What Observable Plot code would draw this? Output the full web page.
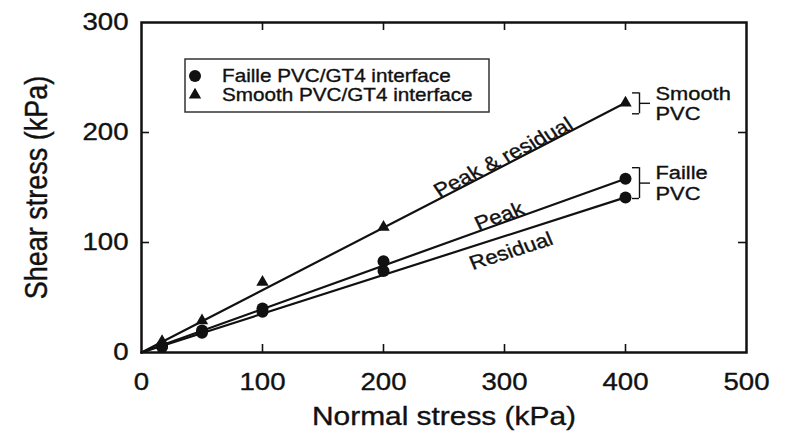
<!DOCTYPE html>
<html>
<head>
<meta charset="utf-8">
<script src="https://cdn.jsdelivr.net/npm/d3@7"></script>
<script src="https://cdn.jsdelivr.net/npm/@observablehq/plot@0.6"></script>
<style>
  html, body { margin: 0; padding: 0; background: #fff; }
  #chart { width: 787px; height: 440px; }
  #chart svg text { stroke: currentColor; stroke-width: 0.35px; }
</style>
</head>
<body>
<div id="chart"></div>
<script>
// ---- data ----
const normalStress   = [17, 50, 100, 200, 400];
const smoothShear    = [10, 29, 64, 114, 227];   // Smooth PVC/GT4 (peak & residual)
const failleShear    = [6, 20, 40, 83, 158];     // Faille PVC/GT4 peak
const failleResShear = [5, 18, 37, 74, 141];     // Faille PVC/GT4 residual

const fitNormal   = [0, 400];
const smoothFit   = [0, 227];
const peakFit     = [0, 158];
const residualFit = [0, 141];

const lineLabels      = ["Peak & residual", "Peak", "Residual"];
const lineLabelNormal = [302, 298, 303];

const bracketLabels = ["Smooth\nPVC", "Faille\nPVC"];
const bracketHi     = [236, 168];
const bracketLo     = [217, 140];

const xTicks = [0, 100, 200, 300, 400, 500];
const yTicks = [0, 100, 200, 300];
const xInner = [100, 200, 300, 400];
const yInner = [100, 200];

const legendLabels = ["Faille PVC/GT4 interface", "Smooth PVC/GT4 interface"];

// ---- layout ----
const W = 787, H = 440;
const mL = 141, mR = 41, mT = 22, mB = 88;
const pw = W - mL - mR, ph = H - mT - mB;
const S = 1.15; // horizontal text stretch of the original print

const pts = (ys) => normalStress.map((x, i) => ({x, y: ys[i]}));
const fit = (ys) => fitNormal.map((x, i) => ({x, y: ys[i]}));
const fits = [smoothFit, peakFit, residualFit];
const kx = pw / 500, ky = ph / 300;
const labels = lineLabels.map((t, i) => {
  const slope = fits[i][1] / fitNormal[1];
  const x = lineLabelNormal[i];
  return {t, x, y: slope * x,
    rot: -Math.atan(S * slope * ky / kx) * 180 / Math.PI};
});
const brackets = bracketLabels.map((t, i) => ({t, hi: bracketHi[i], lo: bracketLo[i], mid: (bracketHi[i] + bracketLo[i]) / 2}));

const ink = "#111";
const plot = Plot.plot({
  width: W, height: H,
  marginLeft: mL, marginRight: mR, marginTop: mT, marginBottom: mB,
  style: {fontFamily: "'Liberation Sans', Arial, Helvetica, sans-serif", color: ink, background: "#fff", overflow: "visible"},
  x: {domain: [0, 500]},
  y: {domain: [0, 300]},
  marks: [
    // inward ticks on all four sides
    Plot.tickX(xInner, {x: d => d, insetTop: ph - 8, stroke: ink, strokeWidth: 1.6}),
    Plot.tickX(xInner, {x: d => d, insetBottom: ph - 8, stroke: ink, strokeWidth: 1.6}),
    Plot.tickY(yInner, {y: d => d, insetRight: pw - 8, stroke: ink, strokeWidth: 1.6}),
    Plot.tickY(yInner, {y: d => d, insetLeft: pw - 8, stroke: ink, strokeWidth: 1.6}),
    Plot.axisX(xTicks, {tickSize: 0, tickPadding: 20, fontSize: 24, label: null}),
    Plot.axisY(yTicks, {tickSize: 0, tickPadding: 13, fontSize: 24, label: null}),
    Plot.text(["Normal stress (kPa)"], {frameAnchor: "bottom", dy: 72, fontSize: 26, textAnchor: "middle"}),
    Plot.text(["Shear stress (kPa)"], {frameAnchor: "left", rotate: -90, dx: -104, fontSize: 27, textAnchor: "middle"}),
    // fitted lines
    Plot.line(fit(smoothFit), {x: "x", y: "y", stroke: ink, strokeWidth: 2.2}),
    Plot.line(fit(peakFit), {x: "x", y: "y", stroke: ink, strokeWidth: 2.2}),
    Plot.line(fit(residualFit), {x: "x", y: "y", stroke: ink, strokeWidth: 2.2}),
    // data points
    Plot.dot(pts(failleShear), {x: "x", y: "y", r: 6, fill: ink, symbol: "circle"}),
    Plot.dot(pts(failleResShear), {x: "x", y: "y", r: 6, fill: ink, symbol: "circle"}),
    Plot.dot(pts(smoothShear), {x: "x", y: "y", r: 4.6, fill: ink, symbol: "triangle"}),
    // line annotations
    Plot.text(labels.slice(0, 2), {x: "x", y: "y", text: "t", rotate: "rot", lineAnchor: "bottom", fontSize: 19.5, dy: -1}),
    Plot.text(labels.slice(2), {x: "x", y: "y", text: "t", rotate: "rot", lineAnchor: "top", fontSize: 19.5, dy: 9}),
    // brackets
    Plot.ruleX(brackets, {x: () => 400, y1: "lo", y2: "hi", dx: 14, stroke: ink, strokeWidth: 1.4}),
    Plot.ruleY(brackets, {y: "hi", x1: () => 400, x2: () => 400, insetLeft: 7, insetRight: -14, stroke: ink, strokeWidth: 1.4}),
    Plot.ruleY(brackets, {y: "lo", x1: () => 400, x2: () => 400, insetLeft: 7, insetRight: -14, stroke: ink, strokeWidth: 1.4}),
    Plot.ruleY(brackets, {y: "mid", x1: () => 400, x2: () => 400, insetLeft: 14, insetRight: -25, stroke: ink, strokeWidth: 1.4}),
    Plot.text(brackets, {x: () => 400, y: "mid", text: "t", dx: 30, textAnchor: "start", fontSize: 19, lineHeight: 1.1}),
    Plot.frame({stroke: ink, strokeWidth: 2.5})
  ]
});

// legend box inside the frame
const svg = d3.select(plot);
const lg = svg.append("g").attr("font-family", "'Liberation Sans', Arial, sans-serif").attr("font-size", 18)
  .attr("fill", ink).attr("text-anchor", "start");
lg.append("rect").attr("x", 185).attr("y", 59).attr("width", 304).attr("height", 53)
  .attr("fill", "#fff").attr("stroke", "#333").attr("stroke-width", 1.5);
lg.append("path").attr("d", d3.symbol(d3.symbolCircle, Math.PI * 36)()).attr("transform", "translate(195,76)");
lg.append("path").attr("d", d3.symbol(d3.symbolTriangle, Math.PI * 4.6 * 4.6)()).attr("transform", "translate(195,95)");
legendLabels.forEach((t, i) => {
  lg.append("text").attr("text-anchor", "start").attr("transform", `translate(222,${76 + i * 18.5})`).attr("dy", "0.35em").text(t);
});

// stretch all text horizontally (screen space) like the original
plot.querySelectorAll("text").forEach(t => {
  const tr = t.getAttribute("transform") || "";
  if (tr.includes("rotate(")) t.setAttribute("transform", tr.replace("rotate(", `scale(${S},1) rotate(`));
  else t.setAttribute("transform", tr + ` scale(${S},1)`);
});

document.getElementById("chart").appendChild(plot);
</script>
</body>
</html>
